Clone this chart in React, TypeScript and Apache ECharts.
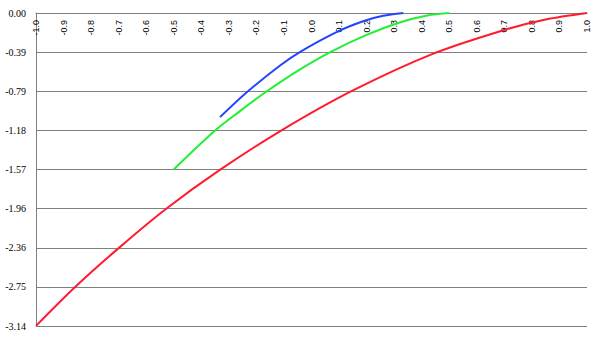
import React, { useEffect, useRef } from "react";
import * as echarts from "echarts";

// x-axis ticks: -1.0 .. 1.0 step 0.1 ; y-axis ticks: multiples of pi/8 from -pi to 0
const xMin = -1;
const xMax = 1;
const xStep = 0.1;
const yMin = -Math.PI;
const yMax = 0;
const yStep = Math.PI / 8;

// values (x, y)
const redX = [-1.0, -0.858, -0.7, -0.525, -0.33, -0.11, 0.145, 0.44, 0.7, 0.85, 1.0];
const redY = [-3.14, -2.75, -2.36, -1.96, -1.57, -1.18, -0.785, -0.41, -0.17, -0.065, 0];

const greenX = [-0.5, -0.35, -0.26, -0.162, -0.05, 0.07, 0.2, 0.32, 0.42, 0.5];
const greenY = [-1.57, -1.18, -0.985, -0.785, -0.58, -0.39, -0.22, -0.095, -0.025, 0];

const blueX = [-0.332, -0.241, -0.114, -0.041, 0.1, 0.19, 0.26, 0.333];
const blueY = [-1.045, -0.81, -0.527, -0.39, -0.18, -0.08, -0.028, 0];

const seriesColors = ["#ff1a2e", "#22ee33", "#2244ff"];

const zip = (xs: number[], ys: number[]) => xs.map((x, i) => [x, ys[i]]);

export default function App() {
  const ref = useRef<HTMLDivElement>(null);

  useEffect(() => {
    if (!ref.current) return;
    const chart = echarts.init(ref.current, undefined, { renderer: "svg" });
    const lineSeries = (data: number[][], color: string) => ({
      type: "line",
      data,
      smooth: 0.3,
      showSymbol: false,
      symbol: "none",
      lineStyle: { color, width: 2 },
      z: 3,
    });
    chart.setOption({
      animation: false,
      backgroundColor: "#ffffff",
      grid: { left: 36, right: 13, top: 13, bottom: 14, containLabel: false },
      xAxis: {
        type: "value",
        position: "top",
        min: xMin,
        max: xMax,
        interval: xStep,
        axisLine: { show: true, onZero: false, lineStyle: { color: "#808080", width: 1 } },
        axisTick: { show: false },
        splitLine: { show: false },
        axisLabel: {
          inside: true,
          rotate: -90,
          margin: 7,
          fontFamily: "'Liberation Sans', Arial, sans-serif",
          fontSize: 9,
          color: "#000000",
          formatter: (v: number) => v.toFixed(1),
        },
      },
      yAxis: {
        type: "value",
        min: yMin,
        max: yMax,
        interval: yStep,
        axisLine: { show: true, onZero: false, lineStyle: { color: "#808080", width: 1 } },
        axisTick: { show: false },
        splitLine: { show: true, lineStyle: { color: "#808080", width: 1 } },
        axisLabel: {
          margin: 10,
          fontFamily: "'Liberation Serif', 'Times New Roman', serif",
          fontSize: 10,
          color: "#000000",
          formatter: (v: number) => v.toFixed(2),
        },
      },
      series: [
        lineSeries(zip(redX, redY), seriesColors[0]),
        lineSeries(zip(greenX, greenY), seriesColors[1]),
        lineSeries(zip(blueX, blueY), seriesColors[2]),
      ],
    });
    return () => chart.dispose();
  }, []);

  return <div ref={ref} style={{ width: 600, height: 340, position: "absolute", left: 0, top: 0 }} />;
}
